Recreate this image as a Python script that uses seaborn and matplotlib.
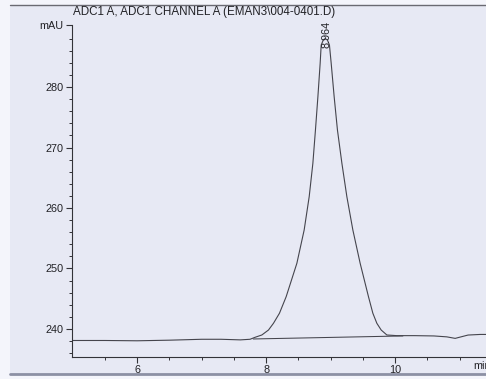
import numpy as np
import pandas as pd
import matplotlib
matplotlib.use("Agg")
import matplotlib.pyplot as plt
from matplotlib.lines import Line2D
from matplotlib.patches import Rectangle
import seaborn as sns

# ---- data ----
time_min = [5.0, 5.5, 6.0, 6.5, 7.0, 7.3, 7.6, 7.75, 7.829, 7.933, 8.036, 8.113,
            8.206, 8.310, 8.476, 8.589, 8.667, 8.724, 8.764, 8.802, 8.837, 8.853,
            8.885, 8.915, 8.950, 8.981, 9.008, 9.054, 9.105, 9.174, 9.251, 9.344,
            9.457, 9.586, 9.654, 9.716, 9.783, 9.871, 10.026, 10.3, 10.6, 10.8,
            10.93, 11.13, 11.32, 11.5]
signal_mau = [238.1, 238.1, 238.05, 238.15, 238.3, 238.3, 238.2, 238.3, 238.63,
              239.01, 239.83, 240.94, 242.60, 245.34, 250.86, 256.36, 261.87,
              267.39, 272.89, 278.40, 283.92, 286.94, 287.75, 288.0, 287.75,
              286.94, 283.92, 278.40, 272.89, 267.39, 261.87, 256.36, 250.86,
              245.34, 242.60, 240.94, 239.83, 239.01, 238.9, 238.9, 238.85,
              238.7, 238.45, 239.0, 239.1, 239.1]
baseline_time = [7.80, 10.12]
baseline_mau = [238.35, 238.85]
peak_rt = 8.964
peak_label = "8.964"
y_major = [240, 250, 260, 270, 280]
x_major = [6, 8, 10]
title = "ADC1 A, ADC1 CHANNEL A (EMAN3\\004-0401.D)"

trace = pd.DataFrame({"t": time_min, "s": signal_mau})
base = pd.DataFrame({"t": baseline_time, "s": baseline_mau})

sns.set_style("ticks")
plt.rcParams["font.family"] = ["Liberation Sans", "DejaVu Sans"]

W, H = 486, 379
paper = "#e7e9f4"
ink = "#333338"
trace_ink = "#45454d"
fig = plt.figure(figsize=(W / 100, H / 100), dpi=100, facecolor="#f4f5fb")

# scanned paper area and edge lines (behind the axes)
fig.patches.append(Rectangle((10 / W, (H - 374) / H), 1, (374 - 5) / H,
                             transform=fig.transFigure, facecolor=paper,
                             edgecolor="none", zorder=-10))
fig.lines.append(Line2D([10 / W, 1], [(H - 5) / H] * 2, transform=fig.transFigure,
                        color="#6a6a72", lw=1.0, zorder=-5))
fig.lines.append(Line2D([10 / W, 1], [(H - 374) / H] * 2, transform=fig.transFigure,
                        color="#8c90a4", lw=2.0, zorder=-5))

ax_left = 72 / W
ax_bottom = (H - 357) / H
ax_top = (H - 25) / H
ax = fig.add_axes([ax_left, ax_bottom, 438 / W, ax_top - ax_bottom])
ax.set_facecolor("none")
ax.set_zorder(5)

sns.lineplot(data=trace, x="t", y="s", ax=ax, color=trace_ink, lw=0.8, sort=False)
sns.lineplot(data=base, x="t", y="s", ax=ax, color=trace_ink, lw=0.75, sort=False)

ax.set_xlim(4.99, 11.78)
ax.set_ylim(235.37, 290.25)

ax.set_yticks(y_major + [290.25])
ax.set_yticklabels([str(v) for v in y_major] + ["mAU"])
ax.set_yticks(np.arange(236, 290, 2), minor=True)
ax.set_xticks(x_major)
ax.set_xticklabels([str(v) for v in x_major])
ax.set_xticks(np.arange(5.5, 11.6, 0.5), minor=True)

ax.tick_params(axis="both", which="major", direction="out", length=4.5, width=0.8,
               color=ink, labelcolor="#222226", labelsize=7.8, pad=1.5)
ax.tick_params(axis="both", which="minor", direction="out", length=2.5, width=0.7,
               color=ink)
for s in ["top", "right"]:
    ax.spines[s].set_visible(False)
for s in ["left", "bottom"]:
    ax.spines[s].set_color(ink)
    ax.spines[s].set_linewidth(0.8)
ax.set_xlabel("")
ax.set_ylabel("")

ax.text(peak_rt - 0.035, 286.4, peak_label, rotation=90, ha="center", va="bottom",
        fontsize=7.8, color="#222226")

fig.text(73 / W, (H - 15) / H, title, ha="left", va="baseline", fontsize=8.4,
         color="#222226", zorder=10)
fig.text(473 / W, (H - 366) / H, "min", ha="left", va="center", fontsize=7.8,
         color="#222226", zorder=10)

fig.savefig("out.png", dpi=100, facecolor=fig.get_facecolor())
